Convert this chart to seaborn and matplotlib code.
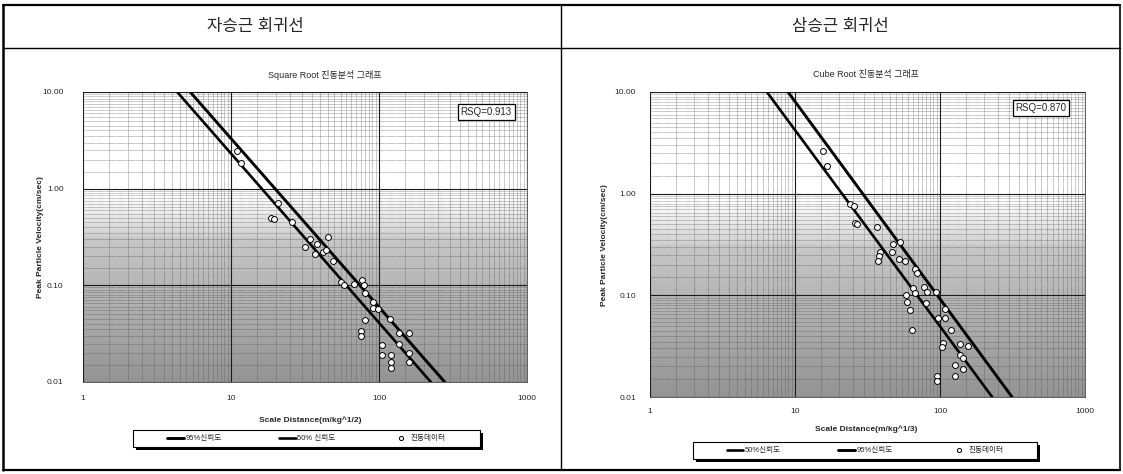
import numpy as np
import pandas as pd
import matplotlib
matplotlib.use("Agg")
import matplotlib.pyplot as plt
import seaborn as sns
from matplotlib.lines import Line2D
from matplotlib.patches import Rectangle
from matplotlib.ticker import LogLocator, NullFormatter

# 자승근 (square root) 측정 데이터
sq_sd = [11.0, 11.7, 20.9, 18.7, 19.5, 26, 34, 44.9, 38.3, 31.8, 37, 42, 48.6, 44,
         55, 57.6, 67.4, 77, 78.7, 80, 90.5, 90.5, 98, 80, 75, 75, 118, 137, 159,
         137, 159, 159, 104, 104, 120, 120, 120]
sq_ppv = [2.45, 1.85, 0.71, 0.50, 0.48, 0.45, 0.30, 0.32, 0.27, 0.25, 0.21, 0.22, 0.18, 0.23,
          0.108, 0.10, 0.104, 0.114, 0.10, 0.083, 0.067, 0.058, 0.057, 0.044, 0.034, 0.030,
          0.045, 0.032, 0.032, 0.025, 0.020, 0.016, 0.024, 0.019, 0.019, 0.016, 0.014]
# 회귀선 (위/아래 끝점)
sq_50_x, sq_50_y = [4.33, 224], [10, 0.01]
sq_95_x, sq_95_y = [5.3, 278], [10, 0.01]
sq_rsq = "RSQ=0.913"

# 삼승근 (cube root) 측정 데이터
cb_sd = [15.6, 16.6, 23.9, 25.5, 26, 26.9, 36.7, 47.4, 53, 46.5, 38.6, 38, 37.3, 52, 57,
         67, 69, 65, 77.6, 81, 93.8, 58, 67, 59, 62, 80, 108, 108, 97, 119, 64, 105,
         104, 137, 156, 137, 144, 126, 144, 126, 95, 95]
cb_ppv = [2.63, 1.87, 0.79, 0.76, 0.515, 0.50, 0.47, 0.32, 0.335, 0.267, 0.267, 0.244, 0.22,
          0.23, 0.22, 0.18, 0.167, 0.118, 0.12, 0.108, 0.108, 0.10, 0.105, 0.086, 0.072,
          0.085, 0.074, 0.060, 0.06, 0.046, 0.046, 0.034, 0.031, 0.033, 0.032, 0.026,
          0.024, 0.0207, 0.019, 0.016, 0.016, 0.0145]
cb_50_x, cb_50_y = [6.4, 229], [10, 0.01]
cb_95_x, cb_95_y = [8.95, 314], [10, 0.01]
cb_rsq = "RSQ=0.870"

x_ticks = [1, 10, 100, 1000]
x_labels = ["1", "10", "100", "1000"]
y_ticks = [0.01, 0.1, 1, 10]
y_labels = ["0.01", "0.10", "1.00", "10.00"]

sns.set_theme(style="white")
plt.rcParams["font.family"] = ["Liberation Sans", "Noto Sans CJK KR", "DejaVu Sans"]

W, H = 1123, 474
fig = plt.figure(figsize=(W / 100, H / 100), dpi=100)


def fx(px):
    return px / W


def fy(py):
    return 1 - py / H


# 배경 그라데이션 (위: 흰색, 아래: 회색)
grad = np.concatenate([np.linspace(0.58, 0.78, 60), np.linspace(0.82, 1.0, 18), np.ones(42)])
grad = grad[:, None]


def draw_panel(rect, sd, ppv, l50, l95, lab50, rsq, rsq_pos, ypad, xpad):
    ax = fig.add_axes(rect)
    ax.imshow(grad, cmap="gray", vmin=0, vmax=1, extent=[0, 1, 0, 1], origin="lower",
              aspect="auto", transform=ax.transAxes, zorder=0)
    ax.set_xscale("log")
    ax.set_yscale("log")

    sns.lineplot(x=l95[0], y=l95[1], ax=ax, color="black", lw=2.1, label="95%신뢰도", zorder=3)
    sns.lineplot(x=l50[0], y=l50[1], ax=ax, color="black", lw=1.9, label=lab50, zorder=3)
    sns.scatterplot(x=sd, y=ppv, ax=ax, marker="o", s=18, facecolor="white",
                    edgecolor="black", linewidth=0.7, label="진동데이터", zorder=4)
    ax.set_xlim(1, 1000)
    ax.set_ylim(0.01, 10)

    ax.xaxis.set_minor_locator(LogLocator(base=10, subs=np.arange(1.5, 10, 0.5), numticks=20))
    ax.yaxis.set_minor_locator(LogLocator(base=10, subs=np.arange(1.5, 10, 0.5), numticks=20))
    ax.grid(True, which="major", color="#1a1a1a", lw=0.8, zorder=1)
    ax.grid(True, which="minor", color="#4a4a4a", lw=0.4, ls=(0, (1, 1)), zorder=1)
    ax.set_axisbelow(False)
    for s in ax.spines.values():
        s.set_color("#444444")
        s.set_linewidth(0.6)

    ax.set_xticks(x_ticks)
    ax.set_xticklabels(x_labels)
    ax.set_yticks(y_ticks)
    ax.set_yticklabels(y_labels)
    ax.xaxis.set_minor_formatter(NullFormatter())
    ax.yaxis.set_minor_formatter(NullFormatter())
    ax.tick_params(axis="both", which="both", length=0, labelsize=6)
    ax.tick_params(axis="x", pad=xpad)
    ax.tick_params(axis="y", pad=ypad)
    ax.set_xlabel("")
    ax.set_ylabel("")

    ax.text(rsq_pos[0], rsq_pos[1], rsq, transform=ax.transAxes, ha="center", va="center",
            fontsize=7, zorder=6,
            bbox=dict(boxstyle="square,pad=0.3", fc="white", ec="black", lw=0.9))

    h, l = ax.get_legend_handles_labels()
    ax.get_legend().remove()
    return ax, dict(zip(l, h))


# 왼쪽: Square Root
axL, hL = draw_panel([fx(83), fy(382), fx(527) - fx(83), fy(92) - fy(382)],
                     sq_sd, sq_ppv, (sq_50_x, sq_50_y), (sq_95_x, sq_95_y), "50% 신뢰도",
                     sq_rsq, (0.908, 0.931), 14, 9)
# 오른쪽: Cube Root
axR, hR = draw_panel([fx(650), fy(397), fx(1085) - fx(650), fy(92) - fy(397)],
                     cb_sd, cb_ppv, (cb_50_x, cb_50_y), (cb_95_x, cb_95_y), "50%신뢰도",
                     cb_rsq, (0.899, 0.948), 10, 8)


def legend_box(x0, y0, x1, y1, handles, labels, spacing):
    # 그림자 + 테두리 상자
    fig.add_artist(Rectangle((fx(x0 + 3), fy(y1 + 3)), fx(x1) - fx(x0), fy(y0) - fy(y1),
                             transform=fig.transFigure, fc="black", ec="none", zorder=1))
    fig.add_artist(Rectangle((fx(x0), fy(y1)), fx(x1) - fx(x0), fy(y0) - fy(y1),
                             transform=fig.transFigure, fc="white", ec="black", lw=0.8, zorder=2))
    lg = fig.legend(handles, labels, loc="center",
                    bbox_to_anchor=(fx((x0 + x1) / 2), fy((y0 + y1) / 2)),
                    ncol=3, fontsize=5.5, frameon=False, handlelength=2.2,
                    handletextpad=0.2, columnspacing=spacing)
    lg.set_zorder(3)
    return lg


dot = Line2D([], [], ls="none", marker="o", ms=3, mfc="white", mec="black", mew=0.7)
legend_box(133, 430, 480, 447, [hL["95%신뢰도"], hL["50% 신뢰도"], dot],
           ["95%신뢰도", "50% 신뢰도", "진동데이터"], 7.5)
legend_box(693, 442, 1037, 459, [hR["50%신뢰도"], hR["95%신뢰도"], dot],
           ["50%신뢰도", "95%신뢰도", "진동데이터"], 7.5)

# 차트 제목 / 축 제목
fig.text(fx(325), fy(75), "Square Root 진동분석 그래프", ha="center", va="center", fontsize=6.5)
fig.text(fx(866), fy(75), "Cube Root 진동분석 그래프", ha="center", va="center", fontsize=6.5)
fig.text(fx(40), fy(237), "Peak Particle Velocity(cm/sec)", rotation=90, ha="center", va="center",
         fontsize=6, fontweight="bold")
fig.text(fx(605), fy(245), "Peak Particle Velocity(cm/sec)", rotation=90, ha="center", va="center",
         fontsize=6, fontweight="bold")
fig.text(fx(310), fy(420), "Scale Distance(m/kg^1/2)", ha="center", va="center", fontsize=6,
         fontweight="bold")
fig.text(fx(866), fy(429), "Scale Distance(m/kg^1/3)", ha="center", va="center", fontsize=6,
         fontweight="bold")

# 표 머리글
fig.text(fx(255), fy(26), "자승근 회귀선", ha="center", va="center", fontsize=12)
fig.text(fx(840), fy(26), "삼승근 회귀선", ha="center", va="center", fontsize=12)


# 표 테두리
def hline(y, x0, x1, lw):
    fig.add_artist(Line2D([fx(x0), fx(x1)], [fy(y), fy(y)], color="black", lw=lw))


def vline(x, y0, y1, lw):
    fig.add_artist(Line2D([fx(x), fx(x)], [fy(y0), fy(y1)], color="black", lw=lw))


hline(5, 3, 1120, 1.6)
hline(48, 3, 1120, 1.0)
hline(470, 3, 1120, 1.6)
vline(3, 5, 470, 1.8)
vline(1120, 5, 470, 1.2)
vline(561, 5, 470, 1.0)

fig.savefig("out.png", dpi=100)
